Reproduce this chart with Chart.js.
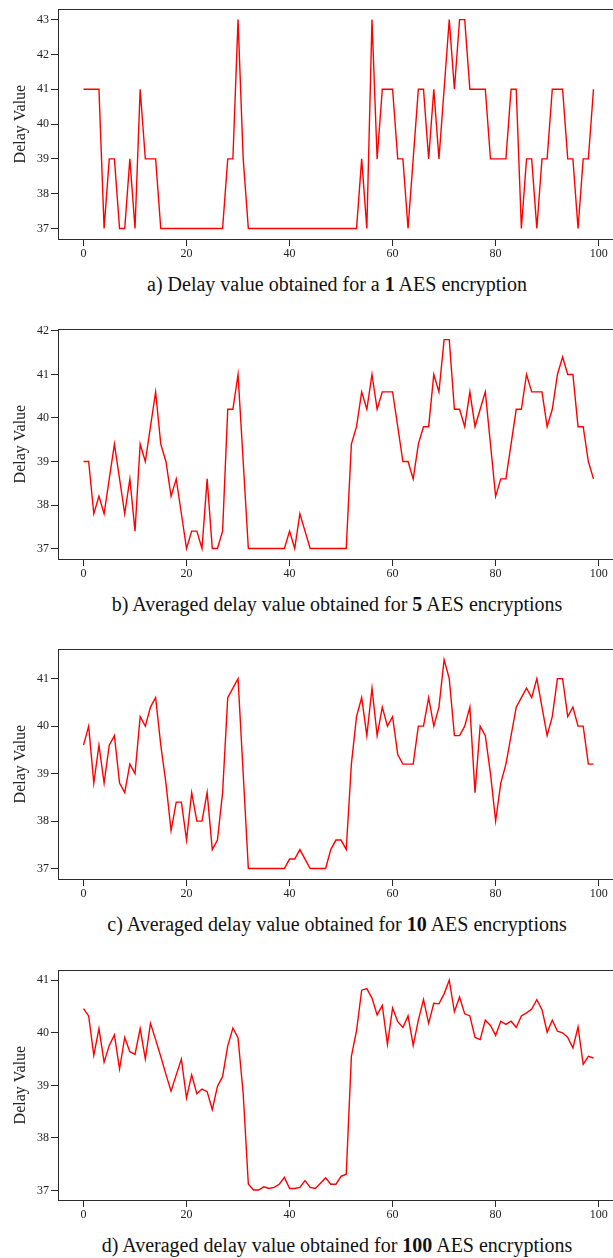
<!DOCTYPE html>
<html>
<head>
<meta charset="utf-8">
<script src="https://cdn.jsdelivr.net/npm/chart.js@4"></script>
<style>
  html, body { margin: 0; padding: 0; background: #fff; overflow: hidden; }
  body { width: 613px; height: 1258px; position: relative; }
  .panel { position: absolute; left: 0; width: 640px; height: 269px; }
  .caption {
    position: absolute; left: 0; width: 674px; text-align: center;
    font-family: "Liberation Serif", "Times New Roman", serif;
    font-size: 20px; line-height: 22px; color: #111; white-space: nowrap;
  }
</style>
</head>
<body>
<div class="panel" style="top:0px"><canvas id="chartA"></canvas></div>
<div class="caption" style="top:273px">a) Delay value obtained for a <b>1</b> AES encryption</div>
<div class="panel" style="top:320px"><canvas id="chartB"></canvas></div>
<div class="caption" style="top:593px">b) Averaged delay value obtained for <b>5</b> AES encryptions</div>
<div class="panel" style="top:640px"><canvas id="chartC"></canvas></div>
<div class="caption" style="top:913px">c) Averaged delay value obtained for <b>10</b> AES encryptions</div>
<div class="panel" style="top:961px"><canvas id="chartD"></canvas></div>
<div class="caption" style="top:1234px">d) Averaged delay value obtained for <b>100</b> AES encryptions</div>

<script>
// x ticks shared by all four panels
const xTicks = [0, 20, 40, 60, 80, 100];

// a) single encryption
const delay1 = [
  41, 41, 41, 41, 37, 39, 39, 37, 37, 39,
  37, 41, 39, 39, 39, 37, 37, 37, 37, 37,
  37, 37, 37, 37, 37, 37, 37, 37, 39, 39,
  43, 39, 37, 37, 37, 37, 37, 37, 37, 37,
  37, 37, 37, 37, 37, 37, 37, 37, 37, 37,
  37, 37, 37, 37, 39, 37, 43, 39, 41, 41,
  41, 39, 39, 37, 39, 41, 41, 39, 41, 39,
  41, 43, 41, 43, 43, 41, 41, 41, 41, 39,
  39, 39, 39, 41, 41, 37, 39, 39, 37, 39,
  39, 41, 41, 41, 39, 39, 37, 39, 39, 41
];
const yTicks1 = [37, 38, 39, 40, 41, 42, 43];

// b) average of 5
const delay5 = [
  39.0, 39.0, 37.8, 38.2, 37.8, 38.6, 39.4, 38.6, 37.8, 38.6,
  37.4, 39.4, 39.0, 39.8, 40.6, 39.4, 39.0, 38.2, 38.6, 37.8,
  37.0, 37.4, 37.4, 37.0, 38.6, 37.0, 37.0, 37.4, 40.2, 40.2,
  41.0, 39.0, 37.0, 37.0, 37.0, 37.0, 37.0, 37.0, 37.0, 37.0,
  37.4, 37.0, 37.8, 37.4, 37.0, 37.0, 37.0, 37.0, 37.0, 37.0,
  37.0, 37.0, 39.4, 39.8, 40.6, 40.2, 41.0, 40.2, 40.6, 40.6,
  40.6, 39.8, 39.0, 39.0, 38.6, 39.4, 39.8, 39.8, 41.0, 40.6,
  41.8, 41.8, 40.2, 40.2, 39.8, 40.6, 39.8, 40.2, 40.6, 39.4,
  38.2, 38.6, 38.6, 39.4, 40.2, 40.2, 41.0, 40.6, 40.6, 40.6,
  39.8, 40.2, 41.0, 41.4, 41.0, 41.0, 39.8, 39.8, 39.0, 38.6
];
const yTicks5 = [37, 38, 39, 40, 41, 42];

// c) average of 10
const delay10 = [
  39.6, 40.0, 38.8, 39.6, 38.8, 39.6, 39.8, 38.8, 38.6, 39.2,
  39.0, 40.2, 40.0, 40.4, 40.6, 39.6, 38.8, 37.8, 38.4, 38.4,
  37.6, 38.6, 38.0, 38.0, 38.6, 37.4, 37.6, 38.6, 40.6, 40.8,
  41.0, 39.0, 37.0, 37.0, 37.0, 37.0, 37.0, 37.0, 37.0, 37.0,
  37.2, 37.2, 37.4, 37.2, 37.0, 37.0, 37.0, 37.0, 37.4, 37.6,
  37.6, 37.4, 39.2, 40.2, 40.6, 39.8, 40.8, 39.8, 40.4, 40.0,
  40.2, 39.4, 39.2, 39.2, 39.2, 40.0, 40.0, 40.6, 40.0, 40.4,
  41.4, 41.0, 39.8, 39.8, 40.0, 40.4, 38.6, 40.0, 39.8, 39.0,
  38.0, 38.8, 39.2, 39.8, 40.4, 40.6, 40.8, 40.6, 41.0, 40.4,
  39.8, 40.2, 41.0, 41.0, 40.2, 40.4, 40.0, 40.0, 39.2, 39.2
];
const yTicks10 = [37, 38, 39, 40, 41];

// d) average of 100
const delay100 = [
  40.46, 40.32, 39.57, 40.08, 39.44, 39.76, 39.96, 39.31, 39.91, 39.64,
  39.59, 40.08, 39.50, 40.18, 39.87, 39.55, 39.21, 38.89, 39.20, 39.50,
  38.76, 39.20, 38.84, 38.93, 38.88, 38.54, 38.98, 39.17, 39.75, 40.09,
  39.90, 38.84, 37.12, 37.01, 37.01, 37.07, 37.04, 37.06, 37.12, 37.25,
  37.04, 37.04, 37.06, 37.19, 37.06, 37.04, 37.14, 37.24, 37.12, 37.12,
  37.27, 37.31, 39.55, 40.04, 40.81, 40.84, 40.66, 40.34, 40.52, 39.78,
  40.47, 40.21, 40.10, 40.32, 39.76, 40.24, 40.63, 40.18, 40.56, 40.55,
  40.74, 41.00, 40.40, 40.68, 40.36, 40.32, 39.91, 39.87, 40.24, 40.14,
  39.95, 40.22, 40.16, 40.22, 40.10, 40.32, 40.38, 40.45, 40.63, 40.44,
  40.01, 40.24, 40.03, 40.00, 39.91, 39.71, 40.11, 39.40, 39.55, 39.52
];
const yTicks100 = [37, 38, 39, 40, 41];

const serif = "'Liberation Serif', 'Times New Roman', serif";

// box around the plot area (matplotlib style spines)
const framePlugin = {
  id: 'frame',
  afterDraw(chart) {
    const a = chart.chartArea;
    const c = chart.ctx;
    c.save();
    c.strokeStyle = '#2b2b2b';
    c.lineWidth = 1;
    c.strokeRect(Math.round(a.left) + 0.5, Math.round(a.top) + 0.5,
      Math.round(a.right - a.left), Math.round(a.bottom - a.top));
    c.restore();
  }
};

function makeChart(id, values, yTicks, yMin, yMax) {
  const ctx = document.getElementById(id).getContext('2d');
  return new Chart(ctx, {
    type: 'line',
    data: {
      datasets: [{
        data: values.map((v, i) => ({ x: i, y: v })),
        borderColor: '#ff0000',
        borderWidth: 1.4,
        pointRadius: 0,
        tension: 0,
        fill: false
      }]
    },
    options: {
      responsive: true,
      maintainAspectRatio: false,
      animation: false,
      layout: { padding: { top: 4, right: 21, left: 0, bottom: 0 } },
      plugins: { legend: { display: false }, tooltip: { enabled: false } },
      scales: {
        x: {
          type: 'linear',
          min: -4.95,
          max: 103.95,
          afterBuildTicks: s => { s.ticks = xTicks.map(v => ({ value: v })); },
          afterFit: s => { s.height = 30; },
          grid: { drawOnChartArea: false, tickLength: 7, color: '#2b2b2b' },
          border: { display: false },
          ticks: { color: '#222', padding: 1, maxRotation: 0,
                   font: { family: serif, size: 12 } }
        },
        y: {
          min: yMin,
          max: yMax,
          afterBuildTicks: s => { s.ticks = yTicks.map(v => ({ value: v })); },
          afterFit: s => { s.width = 58; },
          grid: { drawOnChartArea: false, tickLength: 7, color: '#2b2b2b' },
          border: { display: false },
          ticks: { color: '#222', padding: 2, font: { family: serif, size: 12 } },
          title: {
            display: true,
            text: 'Delay Value',
            color: '#222',
            padding: { top: 11, bottom: 0 },
            font: { family: serif, size: 16 }
          }
        }
      }
    },
    plugins: [framePlugin]
  });
}

makeChart('chartA', delay1, yTicks1, 36.7, 43.3);
makeChart('chartB', delay5, yTicks5, 36.76, 42.04);
makeChart('chartC', delay10, yTicks10, 36.78, 41.62);
makeChart('chartD', delay100, yTicks100, 36.82, 41.19);
</script>
</body>
</html>
